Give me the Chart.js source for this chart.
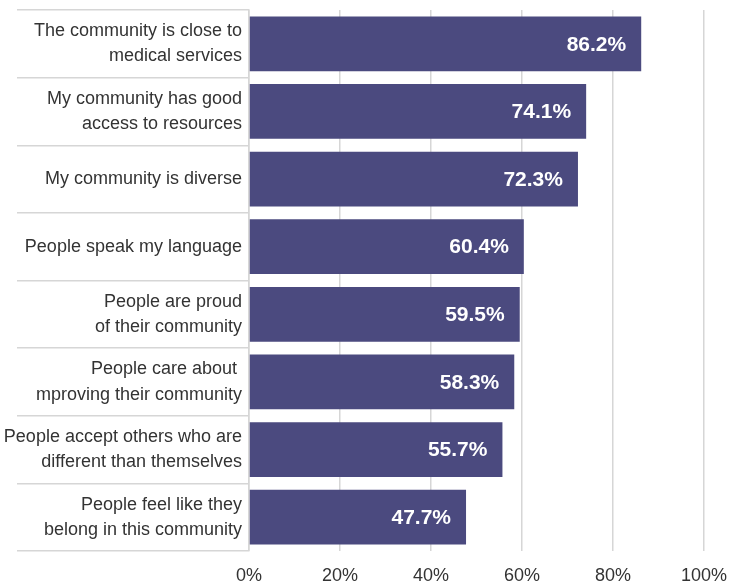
<!DOCTYPE html>
<html>
<head>
<meta charset="utf-8">
<script src="https://cdn.jsdelivr.net/npm/chart.js@4.4.1/dist/chart.umd.min.js"></script>
<style>
  html, body { margin: 0; padding: 0; background: #ffffff; }
  #wrap { width: 730px; height: 582px; position: relative; }
</style>
</head>
<body>
<div id="wrap"><canvas id="chart"></canvas></div>
<script>
// Survey statements (multi-line labels) and share of respondents agreeing
const categories = [
  ["The community is close to", "medical services"],
  ["My community has good", "access to resources"],
  ["My community is diverse"],
  ["People speak my language"],
  ["People are proud", "of their community"],
  ["People care about ", "mproving their community"],
  ["People accept others who are", "different than themselves"],
  ["People feel like they", "belong in this community"]
];
const agreePct = [86.2, 74.1, 72.3, 60.4, 59.5, 58.3, 55.7, 47.7];
const xTicks = [0, 20, 40, 60, 80, 100];

const FONT = "'Liberation Sans', Arial, sans-serif";
const BAR = '#4b4a7f';
const GRID = '#d6d6d6';
const TEXT = '#333333';

// Writes each value in bold white, right-aligned just inside the bar end
const valueLabels = {
  id: 'valueLabels',
  afterDatasetsDraw(chart) {
    const ctx = chart.ctx;
    const meta = chart.getDatasetMeta(0);
    ctx.save();
    ctx.font = 'bold 21px ' + FONT;
    ctx.fillStyle = '#ffffff';
    ctx.textAlign = 'right';
    ctx.textBaseline = 'middle';
    meta.data.forEach((bar, i) => {
      ctx.fillText(agreePct[i].toFixed(1) + '%', bar.x - 15, bar.y + 1);
    });
    ctx.restore();
  }
};

new Chart(document.getElementById('chart'), {
  type: 'bar',
  data: {
    labels: categories,
    datasets: [{
      data: agreePct,
      backgroundColor: BAR,
      borderWidth: 0,
      barPercentage: 0.81,
      categoryPercentage: 1
    }]
  },
  options: {
    indexAxis: 'y',
    responsive: true,
    maintainAspectRatio: false,
    animation: false,
    layout: { padding: { top: 10, right: 26, left: 0, bottom: 0 } },
    plugins: {
      legend: { display: false },
      tooltip: { enabled: false }
    },
    scales: {
      x: {
        min: 0,
        max: 100,
        afterBuildTicks(scale) {
          scale.ticks = xTicks.map(v => ({ value: v }));
        },
        afterFit(scale) {
          scale.height = 31;
          scale.paddingLeft = 0;
          scale.paddingRight = 0;
        },
        border: { display: false },
        grid: { color: GRID, lineWidth: 1.5, drawTicks: false },
        ticks: {
          padding: 14,
          color: TEXT,
          font: { family: FONT, size: 18 },
          callback: v => v + '%'
        }
      },
      y: {
        afterFit(scale) { scale.width = 249; },
        border: { display: true, color: GRID, width: 1.5 },
        grid: {
          offset: true,
          drawOnChartArea: false,
          drawTicks: true,
          tickLength: 232,
          color: GRID,
          lineWidth: 1.5
        },
        ticks: {
          padding: -225,
          color: TEXT,
          font: { family: FONT, size: 18, lineHeight: 1.4 }
        }
      }
    }
  },
  plugins: [valueLabels]
});
</script>
</body>
</html>
